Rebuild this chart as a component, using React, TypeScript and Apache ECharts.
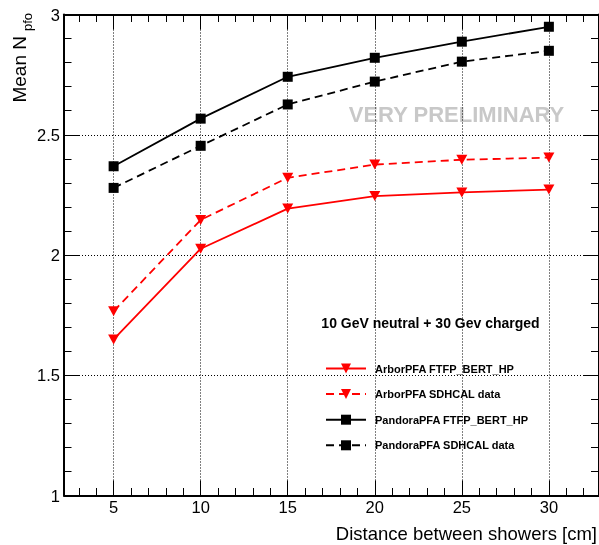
import React, { useEffect, useRef } from "react";
import * as echarts from "echarts";

const distances = [5, 10, 15, 20, 25, 30];
const arborSim = [1.649, 2.026, 2.193, 2.245, 2.26, 2.272];
const arborData = [1.766, 2.146, 2.321, 2.376, 2.396, 2.405];
const pandoraSim = [2.369, 2.567, 2.741, 2.82, 2.887, 2.949];
const pandoraData = [2.279, 2.454, 2.626, 2.721, 2.804, 2.849];

const seriesNames = [
  "ArborPFA FTFP_BERT_HP",
  "ArborPFA SDHCAL data",
  "PandoraPFA FTFP_BERT_HP",
  "PandoraPFA SDHCAL data",
];

const xMajorTicks = [5, 10, 15, 20, 25, 30];
const xMinorTicks = [3, 4, 6, 7, 8, 9, 11, 12, 13, 14, 16, 17, 18, 19, 21, 22, 23, 24, 26, 27, 28, 29, 31, 32];
const xRange = [2.15, 32.85];
const yRange = [1, 3];

const FONT = "'Liberation Sans', Arial, Helvetica, sans-serif";
const TRI = "path://M0,0L10,0L5,9Z";

function pairs(ys: number[]) {
  return distances.map((d, i) => [d, ys[i]]);
}

export default function App() {
  const ref = useRef<HTMLDivElement>(null);
  useEffect(() => {
    if (!ref.current) return;
    const chart = echarts.init(ref.current, undefined, { renderer: "svg" });
    const dotted = { color: "#000", width: 1, type: [1, 2] as any };
    const baseX = {
      type: "value",
      min: xRange[0],
      max: xRange[1],
      gridIndex: 0,
    };
    const majorTick = (pos: string, labels: boolean, line: boolean, split: boolean) => ({
      ...baseX,
      position: pos,
      axisLine: { show: line, onZero: false, lineStyle: { color: "#000", width: 2 } },
      axisTick: { show: true, inside: true, length: 15, customValues: xMajorTicks, lineStyle: { color: "#000", width: 1 } },
      axisLabel: {
        show: labels,
        customValues: xMajorTicks,
        color: "#000",
        fontSize: 16.5,
        fontFamily: FONT,
        margin: 3,
        showMinLabel: true,
        showMaxLabel: true,
      },
      splitLine: { show: split, lineStyle: dotted },
      minorTick: { show: false },
    });
    const minorTick = (pos: string) => ({
      ...baseX,
      position: pos,
      axisLine: { show: false, onZero: false },
      axisTick: { show: true, inside: true, length: 7.5, customValues: xMinorTicks, lineStyle: { color: "#000", width: 1 } },
      axisLabel: { show: false },
      splitLine: { show: false },
    });
    const yAxisCfg = (pos: string, labels: boolean) => ({
      type: "value",
      min: yRange[0],
      max: yRange[1],
      interval: 0.5,
      position: pos,
      axisLine: { show: true, onZero: false, lineStyle: { color: "#000", width: 2 } },
      axisTick: { show: true, inside: true, length: 15, lineStyle: { color: "#000", width: 1 } },
      minorTick: { show: true, splitNumber: 5, length: 7.5, lineStyle: { color: "#000", width: 1 } },
      axisLabel: {
        show: labels,
        color: "#000",
        fontSize: 16.5,
        fontFamily: FONT,
        margin: 4,
      },
      splitLine: { show: labels, lineStyle: dotted },
    });

    const lineSeries = (name: string, ys: number[], color: string, dashed: boolean, symbol: string, size: any) => ({
      name,
      type: "line",
      xAxisIndex: 0,
      yAxisIndex: 0,
      data: pairs(ys),
      symbol,
      symbolSize: size,
      showAllSymbol: true,
      lineStyle: { color, width: 1.8, type: dashed ? ([8, 5] as any) : "solid" },
      itemStyle: { color, borderWidth: 0 },
      emphasis: { disabled: true },
      z: 5,
    });

    chart.setOption({
      animation: false,
      grid: { left: 64, right: 0.5, top: 14.5, bottom: 49.5, containLabel: false, outerBoundsMode: "none" },
      xAxis: [majorTick("bottom", true, true, true), minorTick("bottom"), majorTick("top", false, true, false), minorTick("top")],
      yAxis: [yAxisCfg("left", true), yAxisCfg("right", false)],
      legend: {
        show: true,
        orient: "vertical",
        left: 325,
        top: 361.5,
        padding: 0,
        itemWidth: 40,
        itemHeight: 12.5,
        itemGap: 11.6,
        selectedMode: false,
        data: seriesNames,
        textStyle: {
          color: "#000",
          fontSize: 11,
          fontWeight: "bold",
          fontFamily: FONT,
          lineHeight: 14,
          padding: [0, 0, 0, 4],
        },
      },
      series: [
        lineSeries(seriesNames[0], arborSim, "#ff0000", false, TRI, [11, 10]),
        lineSeries(seriesNames[1], arborData, "#ff0000", true, TRI, [11, 10]),
        lineSeries(seriesNames[2], pandoraSim, "#000000", false, "rect", 10),
        lineSeries(seriesNames[3], pandoraData, "#000000", true, "rect", 10),
      ],
      graphic: [
        {
          type: "text",
          x: 456.5,
          y: 114.5,
          style: {
            text: "VERY PRELIMINARY",
            fill: "#c8c8c8",
            fontSize: 22,
            fontWeight: "bold",
            fontFamily: FONT,
            align: "center",
            verticalAlign: "middle",
            textAlign: "center",
            textVerticalAlign: "middle",
          },
        },
        {
          type: "text",
          x: 430.5,
          y: 322.5,
          style: {
            text: "10 GeV neutral + 30 Gev charged",
            fill: "#000",
            fontSize: 14,
            fontWeight: "bold",
            fontFamily: FONT,
            align: "center",
            verticalAlign: "middle",
            textAlign: "center",
            textVerticalAlign: "middle",
          },
        },
        {
          type: "text",
          x: 597,
          y: 533.5,
          style: {
            text: "Distance between showers [cm]",
            fill: "#000",
            fontSize: 18.5,
            fontFamily: FONT,
            align: "right",
            verticalAlign: "middle",
            textAlign: "right",
            textVerticalAlign: "middle",
          },
        },
        {
          type: "text",
          x: 19,
          y: 36,
          rotation: Math.PI / 2,
          style: {
            text: "Mean N",
            fill: "#000",
            fontSize: 19,
            fontFamily: FONT,
            align: "right",
            verticalAlign: "middle",
            textAlign: "right",
            textVerticalAlign: "middle",
          },
        },
        {
          type: "text",
          x: 27,
          y: 13,
          rotation: Math.PI / 2,
          style: {
            text: "pfo",
            fill: "#000",
            fontSize: 13,
            fontFamily: FONT,
            align: "right",
            verticalAlign: "middle",
            textAlign: "right",
            textVerticalAlign: "middle",
          },
        },
      ],
    } as any);
    return () => chart.dispose();
  }, []);
  return <div ref={ref} style={{ position: "fixed", left: 0, top: 0, width: 599, height: 545 }} />;
}
